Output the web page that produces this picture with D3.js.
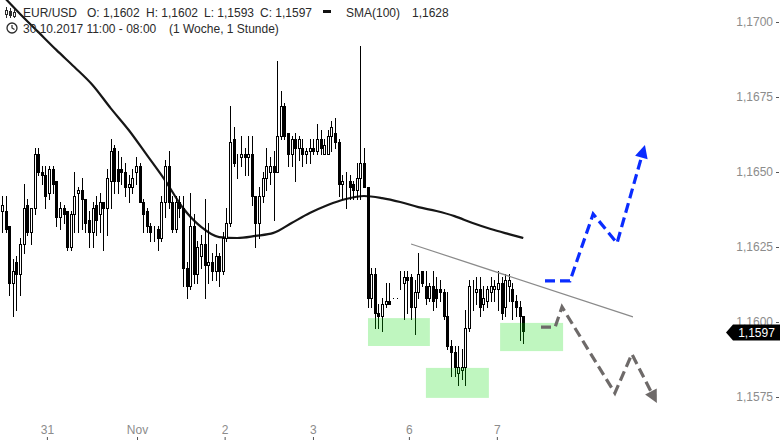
<!DOCTYPE html>
<html>
<head>
<meta charset="utf-8">
<script src="https://cdn.jsdelivr.net/npm/d3@7"></script>
<style>
  body { margin: 0; background: #fff; }
  svg { display: block; font-family: "Liberation Sans", Arial, sans-serif; }
</style>
</head>
<body>
<svg id="chart" width="780" height="440"></svg>
<script>
// hourly EUR/USD candles, 30.10.2017 11:00 -> 07.11.2017 08:00
const candleOpen = [
  1.1637, 1.1637, 1.1632, 1.1613, 1.1620, 1.1616, 1.1626, 1.1639, 1.1630, 1.1638,
  1.1656, 1.1650, 1.1649, 1.1643, 1.1651, 1.1647, 1.1635, 1.1638, 1.1637, 1.1625,
  1.1636, 1.1643, 1.1644, 1.1641, 1.1634, 1.1630, 1.1639, 1.1636, 1.1640, 1.1638,
  1.1647, 1.1658, 1.1651, 1.1651, 1.1650, 1.1645, 1.1645, 1.1650, 1.1652, 1.1640,
  1.1637, 1.1632, 1.1631, 1.1631, 1.1628, 1.1640, 1.1652, 1.1640, 1.1631, 1.1640,
  1.1638, 1.1618, 1.1612, 1.1632, 1.1616, 1.1622, 1.1626, 1.1619, 1.1620, 1.1617,
  1.1622, 1.1617, 1.1628, 1.1633, 1.1661, 1.1653, 1.1655, 1.1656, 1.1655, 1.1656,
  1.1642, 1.1633, 1.1642, 1.1648, 1.1650, 1.1652, 1.1650, 1.1662, 1.1672, 1.1663,
  1.1656, 1.1661, 1.1658, 1.1658, 1.1656, 1.1657, 1.1658, 1.1657, 1.1661, 1.1656,
  1.1656, 1.1662, 1.1663, 1.1660, 1.1646, 1.1646, 1.1647, 1.1646, 1.1644, 1.1648,
  1.1653, 1.1645, 1.1608, 1.1616, 1.1603, 1.1602, 1.1606, 1.1607, 1.1608, 1.1608,
  1.1614, 1.1613, 1.1615, 1.1615, 1.1605, 1.1610, 1.1617, 1.1612, 1.1608, 1.1612,
  1.1611, 1.1611, 1.1610, 1.1602, 1.1592, 1.1590, 1.1583, 1.1584, 1.1585, 1.1598,
  1.1610, 1.1610, 1.1611, 1.1606, 1.1607, 1.1610, 1.1611, 1.1611, 1.1613, 1.1605,
  1.1612, 1.1611, 1.1607, 1.1605, 1.1602
];
const candleHigh = [
  1.1642, 1.1642, 1.1632, 1.1621, 1.1622, 1.1628, 1.1646, 1.1641, 1.1638, 1.1658,
  1.1658, 1.1652, 1.1652, 1.1652, 1.1652, 1.1647, 1.1640, 1.1639, 1.1637, 1.1637,
  1.1650, 1.1645, 1.1648, 1.1641, 1.1637, 1.1640, 1.1642, 1.1643, 1.1640, 1.1651,
  1.1661, 1.1659, 1.1657, 1.1655, 1.1653, 1.1649, 1.1651, 1.1655, 1.1653, 1.1641,
  1.1638, 1.1633, 1.1632, 1.1632, 1.1642, 1.1654, 1.1657, 1.1642, 1.1642, 1.1642,
  1.1642, 1.1620, 1.1643, 1.1636, 1.1627, 1.1629, 1.1641, 1.1633, 1.1623, 1.1626,
  1.1623, 1.1630, 1.1638, 1.1672, 1.1665, 1.1656, 1.1662, 1.1658, 1.1662, 1.1662,
  1.1642, 1.1645, 1.1650, 1.1658, 1.1655, 1.1657, 1.1687, 1.1677, 1.1673, 1.1663,
  1.1662, 1.1663, 1.1662, 1.1661, 1.1658, 1.1661, 1.1661, 1.1666, 1.1664, 1.1661,
  1.1664, 1.1667, 1.1668, 1.1661, 1.1649, 1.1650, 1.1649, 1.1647, 1.1653, 1.1692,
  1.1658, 1.1645, 1.1618, 1.1618, 1.1606, 1.1608, 1.1613, 1.1613, 1.1608, 1.1608,
  1.1617, 1.1617, 1.1617, 1.1616, 1.1614, 1.1623, 1.1617, 1.1617, 1.1613, 1.1617,
  1.1615, 1.1614, 1.1611, 1.1610, 1.1594, 1.1592, 1.1592, 1.1591, 1.1604, 1.1614,
  1.1614, 1.1615, 1.1615, 1.1612, 1.1612, 1.1615, 1.1614, 1.1617, 1.1615, 1.1616,
  1.1616, 1.1613, 1.1609, 1.1607, 1.1602
];
const candleLow = [
  1.1630, 1.1630, 1.1609, 1.1602, 1.1604, 1.1609, 1.1623, 1.1629, 1.1626, 1.1636,
  1.1649, 1.1646, 1.1638, 1.1641, 1.1643, 1.1632, 1.1631, 1.1633, 1.1624, 1.1624,
  1.1630, 1.1630, 1.1631, 1.1630, 1.1625, 1.1625, 1.1629, 1.1630, 1.1624, 1.1629,
  1.1638, 1.1643, 1.1643, 1.1646, 1.1642, 1.1640, 1.1643, 1.1646, 1.1640, 1.1630,
  1.1630, 1.1627, 1.1627, 1.1624, 1.1627, 1.1635, 1.1638, 1.1630, 1.1630, 1.1635,
  1.1612, 1.1608, 1.1611, 1.1613, 1.1613, 1.1618, 1.1608, 1.1613, 1.1614, 1.1614,
  1.1612, 1.1616, 1.1627, 1.1632, 1.1652, 1.1648, 1.1652, 1.1649, 1.1649, 1.1639,
  1.1625, 1.1628, 1.1640, 1.1644, 1.1646, 1.1634, 1.1650, 1.1661, 1.1661, 1.1652,
  1.1652, 1.1647, 1.1654, 1.1652, 1.1653, 1.1653, 1.1656, 1.1656, 1.1656, 1.1656,
  1.1656, 1.1657, 1.1658, 1.1642, 1.1641, 1.1638, 1.1641, 1.1641, 1.1641, 1.1641,
  1.1645, 1.1605, 1.1605, 1.1598, 1.1598, 1.1597, 1.1605, 1.1606, 1.1608, 1.1608,
  1.1611, 1.1601, 1.1603, 1.1601, 1.1596, 1.1608, 1.1612, 1.1606, 1.1607, 1.1604,
  1.1605, 1.1607, 1.1601, 1.1591, 1.1582, 1.1582, 1.1579, 1.1581, 1.1579, 1.1597,
  1.1604, 1.1606, 1.1602, 1.1604, 1.1605, 1.1607, 1.1607, 1.1604, 1.1601, 1.1602,
  1.1607, 1.1601, 1.1602, 1.1594, 1.1593
];
const candleClose = [
  1.1639, 1.1631, 1.1613, 1.1617, 1.1616, 1.1626, 1.1638, 1.1630, 1.1638, 1.1656,
  1.1650, 1.1649, 1.1642, 1.1651, 1.1646, 1.1635, 1.1638, 1.1636, 1.1625, 1.1636,
  1.1642, 1.1644, 1.1641, 1.1633, 1.1630, 1.1638, 1.1634, 1.1640, 1.1638, 1.1648,
  1.1657, 1.1647, 1.1647, 1.1650, 1.1645, 1.1646, 1.1648, 1.1652, 1.1640, 1.1636,
  1.1632, 1.1630, 1.1631, 1.1628, 1.1640, 1.1652, 1.1640, 1.1631, 1.1640, 1.1638,
  1.1618, 1.1612, 1.1632, 1.1616, 1.1625, 1.1626, 1.1619, 1.1620, 1.1617, 1.1622,
  1.1617, 1.1628, 1.1633, 1.1660, 1.1653, 1.1653, 1.1656, 1.1655, 1.1656, 1.1642,
  1.1633, 1.1642, 1.1648, 1.1652, 1.1652, 1.1650, 1.1662, 1.1672, 1.1662, 1.1656,
  1.1661, 1.1658, 1.1661, 1.1656, 1.1657, 1.1658, 1.1657, 1.1661, 1.1658, 1.1659,
  1.1662, 1.1665, 1.1660, 1.1646, 1.1647, 1.1646, 1.1645, 1.1644, 1.1648, 1.1653,
  1.1645, 1.1608, 1.1616, 1.1603, 1.1602, 1.1606, 1.1607, 1.1606, 1.1608, 1.1608,
  1.1614, 1.1615, 1.1614, 1.1605, 1.1610, 1.1616, 1.1613, 1.1608, 1.1612, 1.1607,
  1.1608, 1.1610, 1.1602, 1.1592, 1.1590, 1.1585, 1.1585, 1.1585, 1.1598, 1.1612,
  1.1610, 1.1611, 1.1605, 1.1608, 1.1611, 1.1612, 1.1612, 1.1613, 1.1603, 1.1614,
  1.1614, 1.1607, 1.1605, 1.1602, 1.1597
];

const smaIndex = [0, 5, 10, 15, 20, 25, 30, 35, 40, 45, 50, 55, 60, 65, 70, 75, 80, 85, 90, 95,
  100, 105, 110, 115, 120, 125, 130, 135, 140, 144];
const smaValue = [1.1709, 1.17027, 1.16967, 1.16907, 1.1685, 1.1679, 1.16713, 1.1664, 1.16557, 1.16473,
  1.1638, 1.16317, 1.16283, 1.1628, 1.16287, 1.16297, 1.1633, 1.16363, 1.1639, 1.1641,
  1.1642, 1.16413, 1.164, 1.16383, 1.1637, 1.16353, 1.1633, 1.1631, 1.16293, 1.1628];

const priceTicks = [1.1700, 1.1675, 1.1650, 1.1625, 1.1600, 1.1575];
const dayLabels = ["31", "Nov", "2", "3", "6", "7"];
const dayIndex = [12.4, 37.3, 61.5, 85.9, 112.4, 136.7];

// drawn annotations (candle index / price)
const zoneStart = [101.1, 117.1, 137.6];
const zoneEnd = [118.2, 134.5, 155];
const zoneTop = [1.16013, 1.15847, 1.15997];
const zoneBottom = [1.1592, 1.15747, 1.15903];
const trendIndex = [113, 174.3];
const trendValue = [1.1626, 1.16017];
const bullIndex = [150, 156.9, 163.3, 169.9, 177.6];
const bullValue = [1.16137, 1.16137, 1.1636, 1.16263, 1.1659];
const bearIndex = [148.9, 152.8, 154.7, 169.3, 174.0, 180.9];
const bearValue = [1.15983, 1.15983, 1.1605, 1.15763, 1.15893, 1.1573];

const svg = d3.select("#chart");
const fmt = (v) => d3.format(".4f")(v).replace(".", ",");

const x = d3.scaleLinear().domain([0, 200]).range([2, 2 + 3.62 * 200]);
const y = d3.scaleLinear().domain([1.1575, 1.1700]).range([397, 22]);

const candles = candleOpen.map((o, i) => ({
  i, o, h: candleHigh[i], l: candleLow[i], c: candleClose[i]
}));

const zones = zoneStart.map((s, k) => ({ s, e: zoneEnd[k], t: zoneTop[k], b: zoneBottom[k] }));

// SMA line
const smaLine = d3.line()
  .x((d) => x(d[0]))
  .y((d) => y(d[1]))
  .curve(d3.curveMonotoneX);

svg.append("path")
  .attr("d", smaLine(smaIndex.map((v, k) => [v, smaValue[k]])))
  .attr("fill", "none")
  .attr("stroke", "#161616")
  .attr("stroke-width", 2.2);

// candles
const cg = svg.append("g").attr("shape-rendering", "crispEdges");

cg.selectAll("line")
  .data(candles)
  .join("line")
  .attr("x1", (d) => Math.round(x(d.i)) + 0.5)
  .attr("x2", (d) => Math.round(x(d.i)) + 0.5)
  .attr("y1", (d) => Math.round(y(d.h)))
  .attr("y2", (d) => Math.round(y(d.l)) + 1)
  .attr("stroke", "#000");

cg.selectAll("rect")
  .data(candles)
  .join("rect")
  .attr("x", (d) => Math.round(x(d.i)) - 0.5)
  .attr("width", 2)
  .attr("y", (d) => Math.round(y(Math.max(d.o, d.c))) + 0.5)
  .attr("height", (d) => Math.round(y(Math.min(d.o, d.c))) - Math.round(y(Math.max(d.o, d.c))))
  .attr("fill", (d) => (d.c > d.o ? "#fff" : "#000"))
  .attr("stroke", "#000");

// support zones, semi transparent over the candles
svg.append("g")
  .selectAll("rect")
  .data(zones)
  .join("rect")
  .attr("x", (d) => x(d.s))
  .attr("width", (d) => x(d.e) - x(d.s))
  .attr("y", (d) => y(d.t))
  .attr("height", (d) => y(d.b) - y(d.t))
  .attr("fill", "#00dd00")
  .attr("fill-opacity", 0.25);

// resistance line
svg.append("line")
  .attr("x1", x(trendIndex[0])).attr("y1", y(trendValue[0]))
  .attr("x2", x(trendIndex[1])).attr("y2", y(trendValue[1]))
  .attr("stroke", "#8a8a8a")
  .attr("stroke-width", 1.2);

// dashed scenario arrows
function arrow(idx, val, color) {
  const pts = idx.map((v, k) => [x(v), y(val[k])]);
  const tip = pts[pts.length - 1];
  const prev = pts[pts.length - 2];
  const dx = tip[0] - prev[0], dy = tip[1] - prev[1];
  const len = Math.hypot(dx, dy);
  const ux = dx / len, uy = dy / len;
  const hl = 13, hw = 6.5;
  const base = [tip[0] - ux * hl, tip[1] - uy * hl];
  const linePts = pts.slice(0, -1).concat([[tip[0] - ux * (hl - 2), tip[1] - uy * (hl - 2)]]);
  svg.append("path")
    .attr("d", d3.line()(linePts))
    .attr("fill", "none")
    .attr("stroke", color)
    .attr("stroke-width", 3.2)
    .attr("stroke-dasharray", "10,5");
  svg.append("path")
    .attr("d", d3.line()([
      tip,
      [base[0] - uy * hw, base[1] + ux * hw],
      [base[0] + uy * hw, base[1] - ux * hw]
    ]) + "Z")
    .attr("fill", color);
}
arrow(bullIndex, bullValue, "#0a2cff");
arrow(bearIndex, bearValue, "#6e6a69");

// price axis
const yAxis = svg.append("g")
  .attr("transform", "translate(779,0)")
  .call(d3.axisLeft(y).tickValues(priceTicks).tickSize(3).tickPadding(3).tickFormat(fmt));
yAxis.select(".domain").remove();
yAxis.selectAll("line").attr("stroke", "#555");
yAxis.selectAll("text")
  .attr("fill", "#8c8c8c")
  .attr("font-size", 12)
  .attr("font-family", "Liberation Sans, Arial, sans-serif");

// time axis
const xAxis = svg.append("g")
  .attr("transform", "translate(0,440)")
  .call(d3.axisTop(x).tickValues(dayIndex).tickSize(3).tickPadding(3)
    .tickFormat((d, k) => dayLabels[k]));
xAxis.select(".domain").remove();
xAxis.selectAll("line").attr("stroke", "#555");
xAxis.selectAll("text")
  .attr("fill", "#8c8c8c")
  .attr("font-size", 12)
  .attr("font-family", "Liberation Sans, Arial, sans-serif");

// last price marker
const last = candles[candles.length - 1];
const ly = y(last.c);
svg.append("path")
  .attr("d", `M726,${ly + 1.5} L733,${ly - 6.5} L780,${ly - 6.5} L780,${ly + 9.5} L733,${ly + 9.5} Z`)
  .attr("fill", "#000");
svg.append("text")
  .attr("x", 756.5).attr("y", ly + 6)
  .attr("text-anchor", "middle")
  .attr("fill", "#fff")
  .attr("font-size", 12)
  .text(fmt(last.c));

// header
const head = svg.append("g").attr("fill", "#2a2a2a").attr("font-size", 12);
const icon = head.append("g").attr("stroke", "#2a2a2a").attr("shape-rendering", "crispEdges");
[6.5, 10.5, 14.5].forEach((cx, k) => {
  icon.append("line").attr("x1", cx).attr("x2", cx).attr("y1", 7 + k).attr("y2", 18);
  icon.append("rect").attr("x", cx - 1).attr("y", 10 + k).attr("width", 2).attr("height", 4)
    .attr("fill", k === 1 ? "#2a2a2a" : "#fff");
});
head.append("text").attr("x", 23).attr("y", 16.5).text("EUR/USD");
head.append("text").attr("x", 87).attr("y", 16.5).text("O: " + fmt(last.o));
head.append("text").attr("x", 146).attr("y", 16.5).text("H: " + fmt(last.h));
head.append("text").attr("x", 204).attr("y", 16.5).text("L: " + fmt(last.l));
head.append("text").attr("x", 260).attr("y", 16.5).text("C: " + fmt(last.c));
head.append("rect").attr("x", 323).attr("y", 10).attr("width", 8).attr("height", 3).attr("fill", "#111");
head.append("text").attr("x", 346).attr("y", 16.5).text("SMA(100)");
head.append("text").attr("x", 412).attr("y", 16.5).text(fmt(smaValue[smaValue.length - 1]));

head.append("circle").attr("cx", 12).attr("cy", 28).attr("r", 5)
  .attr("fill", "none").attr("stroke", "#2a2a2a").attr("stroke-width", 1.3);
head.append("path").attr("d", "M12,25 L12,28 L14.5,29.5")
  .attr("fill", "none").attr("stroke", "#2a2a2a").attr("stroke-width", 1.2);
head.append("text").attr("x", 23).attr("y", 33).text("30.10.2017 11:00 - 08:00");
head.append("text").attr("x", 169).attr("y", 33).text("(1 Woche, 1 Stunde)");
</script>
</body>
</html>
